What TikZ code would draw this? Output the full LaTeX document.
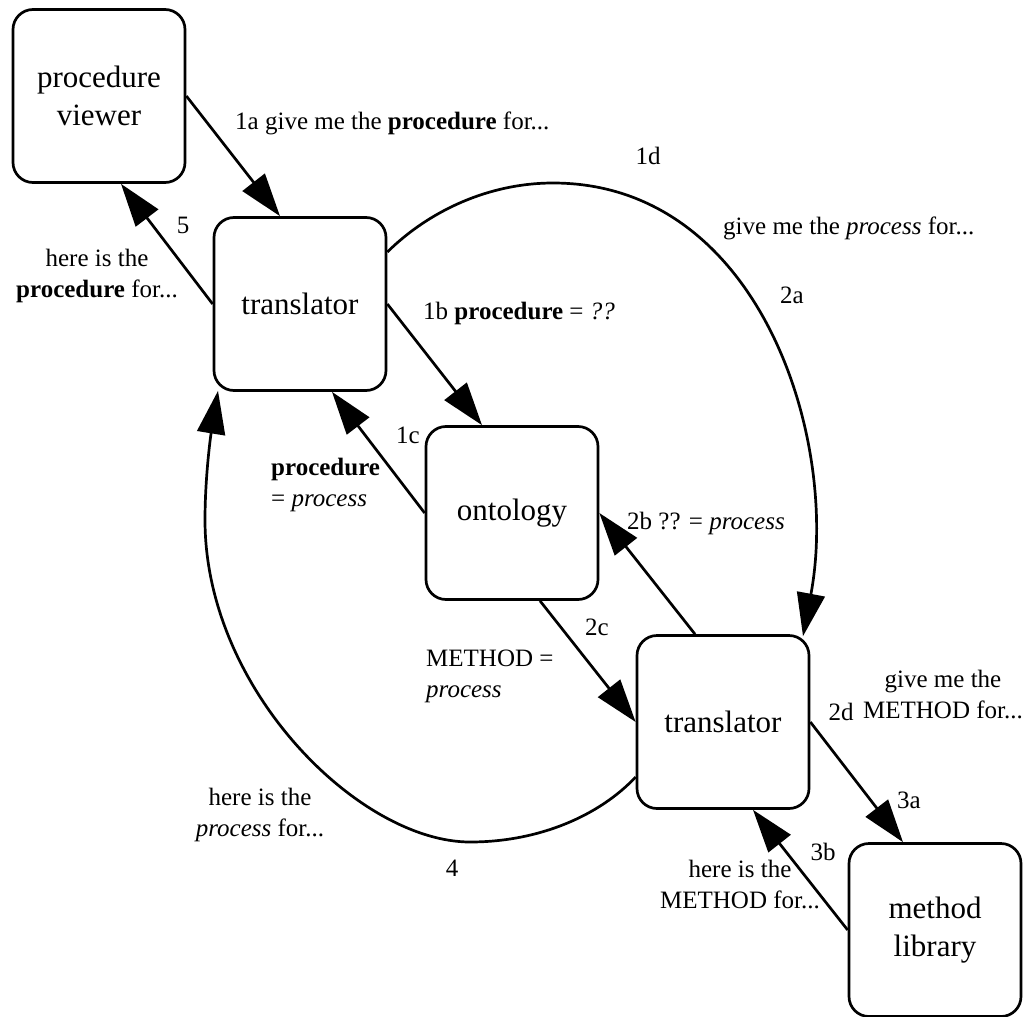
\documentclass[tikz,border=0pt]{standalone}
\usepackage{fontspec}
\setmainfont{Liberation Serif}
\usetikzlibrary{arrows.meta,calc}
\begin{document}
\begin{tikzpicture}[x=1pt,y=-1pt,
  box/.style={draw, line width=2.7pt, rounded corners=20pt, minimum width=172pt, minimum height=173pt, align=center, font=\fontsize{31}{38}\selectfont, inner sep=0pt},
  lbl/.style={inner sep=0pt, font=\fontsize{25}{31}\selectfont},
  edge/.style={line width=2.7pt, -{Triangle[length=43pt,width=28pt]}},
]
\useasboundingbox (0,0) rectangle (1028,1017);
% nodes
\node[box] (pv) at (99,96) {procedure\\viewer};
\node[box] (t1) at (300,304) {translator};
\node[box] (ont) at (512,513) {ontology};
\node[box] (t2) at (723,722) {translator};
\node[box] (ml) at (935,930) {method\\library};
% straight edges
\draw[edge] (pv.east) -- ($(t1.north)+(-20,0)$);
\draw[edge] (t1.west) -- ($(pv.south)+(22,0)$);
\draw[edge] (t1.east) -- ($(ont.north)+(-30,0)$);
\draw[edge] (ont.west) -- ($(t1.south)+(32,0)$);
\draw[edge] ($(t2.north)+(-28,0)$) -- (ont.east);
\draw[edge] ($(ont.south)+(28,0)$) -- (t2.west);
\draw[edge] (t2.east) -- ($(ml.north)+(-32,0)$);
\draw[edge] (ml.west) -- ($(t2.south)+(30,0)$);
% curved edges
\draw[edge] ($(t1.east)+(0,-52)$) .. controls (430,210) and (490,183) .. (553,183)
  .. controls (760,183) and (840,440) .. ($(t2.north)+(80,2)$);
\draw[edge] ($(t2.west)+(0,55)$) .. controls (600,815) and (540,842) .. (470,842)
  .. controls (360,842) and (205,690) .. (205,520)
  .. controls (205,480) and (210,440) .. ($(t1.south)+(-82,-1)$);
% labels
\node[lbl, anchor=west] (l1a) at (235,123) {1a give me the \textbf{procedure} for...};
\node[lbl] (l5) at (183,225) {5};
\node[lbl, align=center] (l5b) at (97,276) {here is the\\\textbf{procedure} for...};
\node[lbl, anchor=west] (l1b) at (423,313) {1b \textbf{procedure} = \textit{??}};
\node[lbl] (l1c) at (408,435) {1c};
\node[lbl, align=left, anchor=west] (l1cb) at (271,485) {\textbf{procedure}\\= \textit{process}};
\node[lbl] (l1d) at (648,156) {1d};
\node[lbl, anchor=west] (lgive) at (723,228) {give me the \textit{process} for...};
\node[lbl] (l2a) at (792,295) {2a};
\node[lbl, anchor=west] (l2b) at (627,523) {2b ?? = \textit{process}};
\node[lbl] (l2c) at (597,627) {2c};
\node[lbl, align=left, anchor=west] (l2cb) at (426,676) {METHOD =\\\textit{process}};
\node[lbl, align=center] (l2db) at (943,694) {give me the\\METHOD for...};
\node[lbl] (l2d) at (841,712) {2d};
\node[lbl] (l3a) at (909,800) {3a};
\node[lbl] (l3b) at (823,852) {3b};
\node[lbl, align=center] (l3bb) at (740,884) {here is the\\METHOD for...};
\node[lbl, align=center] (l4b) at (260,815) {here is the\\\textit{process} for...};
\node[lbl] (l4) at (452,868) {4};
\end{tikzpicture}
\end{document}
